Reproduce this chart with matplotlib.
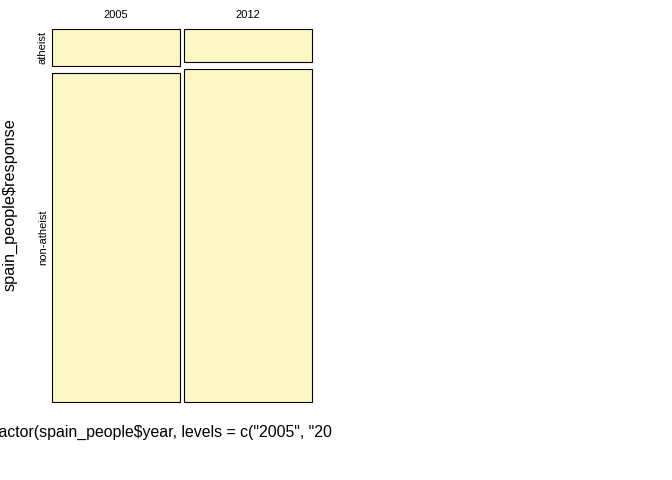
import numpy as np
import matplotlib
matplotlib.use("Agg")
import matplotlib.pyplot as plt
from matplotlib.patches import Rectangle
from matplotlib.transforms import Bbox

plt.rcParams['font.family'] = ['Liberation Sans', 'DejaVu Sans']

# ── DATA ─────────────────────────────────────────────────────────────
years     = ["2005", "2012"]
responses = ["atheist", "non-atheist"]
counts    = np.array([[115, 1031],     # 2005
                      [103, 1042]])    # 2012

FILL = "#FCF7C1"
W, H = 672, 480

fig = plt.figure(figsize=(W / 100, H / 100), dpi=100)
# mosaic region in pixels: x 52-312, y 29-402
ax = fig.add_axes([52 / W, 1 - 402 / H, 260 / W, 373 / H])
ax.set_xlim(0, 1)
ax.set_ylim(0, 1)
ax.axis("off")

xgap = 4 / 260
ygap = 7 / 373

col_tot = counts.sum(axis=1)
widths = (1 - xgap) * col_tot / col_tot.sum()

x0 = 0.0
for i, yr in enumerate(years):
    heights = (1 - ygap) * counts[i] / col_tot[i]
    top = 1.0
    for j, resp in enumerate(responses):
        y0 = top - heights[j]
        ax.add_patch(Rectangle((x0, y0), widths[i], heights[j],
                               facecolor=FILL, edgecolor="black",
                               linewidth=0.8, clip_on=False))
        if i == 0:
            ax.text(-9 / 260, y0 + heights[j] / 2, resp, rotation=90,
                    ha="center", va="center", fontsize=8)
        top = y0 - ygap
    ax.text(x0 + widths[i] / 2, 1 + 14 / 373, yr, ha="center", va="center",
            fontsize=8)
    x0 += widths[i] + xgap

# ── AXIS LABELS ──────────────────────────────────────────────────────
fig.text(10 / W, 1 - 205 / H, "spain_people$response", rotation=90,
         ha="center", va="center", fontsize=11.7)
# the reference device clips this label to the left half of the page
xl = fig.text(180 / W, 1 - 432 / H,
              'factor(spain_people$year, levels = c("2005", "2012"))',
              ha="center", va="center", fontsize=11.45)
xl.set_clip_box(Bbox.from_extents(0, 0, 332, H))
xl.set_clip_on(True)

fig.savefig("out.png", dpi=100)
